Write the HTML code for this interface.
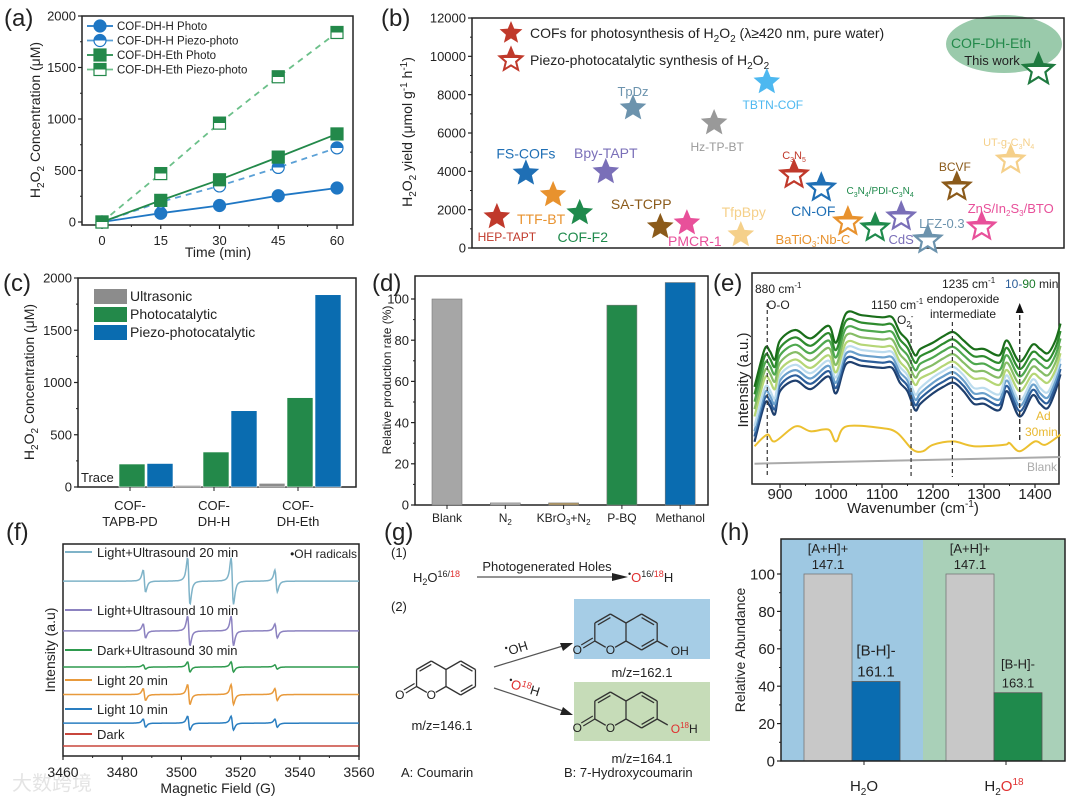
<!DOCTYPE html>
<html><head><meta charset="utf-8">
<style>
html,body{margin:0;padding:0;background:#fff;}
svg{display:block;font-family:"Liberation Sans","Noto Sans CJK SC",sans-serif;}
text{fill:#222;}
</style></head>
<body>
<svg id="fig" width="1080" height="801" viewBox="0 0 1080 801" xmlns="http://www.w3.org/2000/svg">
<defs>
<linearGradient id="halfBlue" x1="0" y1="0" x2="0" y2="1"><stop offset="50%" stop-color="#1f77c4"/><stop offset="50%" stop-color="#fff"/></linearGradient>
<linearGradient id="halfGreen" x1="0" y1="0" x2="0" y2="1"><stop offset="50%" stop-color="#23894a"/><stop offset="50%" stop-color="#fff"/></linearGradient>
</defs>
<!-- panel labels -->
<text x="4" y="26" font-size="24">(a)</text>
<text x="381" y="26" font-size="24">(b)</text>
<text x="3" y="291" font-size="24">(c)</text>
<text x="372" y="291" font-size="24">(d)</text>
<text x="713" y="291" font-size="24">(e)</text>
<text x="6" y="540" font-size="24">(f)</text>
<text x="384" y="540" font-size="24">(g)</text>
<text x="720" y="540" font-size="24">(h)</text>

<!-- axis titles -->
<text transform="translate(40,120) rotate(-90)" text-anchor="middle" font-size="14">H<tspan font-size="10" dy="4">2</tspan><tspan dy="-4">O</tspan><tspan font-size="10" dy="4">2</tspan><tspan dy="-4"> Concentration (μM)</tspan></text>
<text x="218" y="257" text-anchor="middle" font-size="14">Time (min)</text>
<text transform="translate(412,132) rotate(-90)" text-anchor="middle" font-size="14">H<tspan font-size="10" dy="4">2</tspan><tspan dy="-4">O</tspan><tspan font-size="10" dy="4">2</tspan><tspan dy="-4"> yield (μmol g</tspan><tspan font-size="10" dy="-5">-1</tspan><tspan dy="5"> h</tspan><tspan font-size="10" dy="-5">-1</tspan><tspan dy="5">)</tspan></text>
<text transform="translate(34,382) rotate(-90)" text-anchor="middle" font-size="14">H<tspan font-size="10" dy="4">2</tspan><tspan dy="-4">O</tspan><tspan font-size="10" dy="4">2</tspan><tspan dy="-4"> Concentration (μM)</tspan></text>
<text transform="translate(391,380) rotate(-90)" text-anchor="middle" font-size="12">Relative production rate (%)</text>
<text transform="translate(748,380) rotate(-90)" text-anchor="middle" font-size="15">Intensity (a.u.)</text>
<text x="913" y="513" text-anchor="middle" font-size="15">Wavenumber (cm<tspan font-size="10" dy="-6">-1</tspan><tspan dy="6">)</tspan></text>
<text transform="translate(55,650) rotate(-90)" text-anchor="middle" font-size="14">Intensity (a.u)</text>
<text x="218" y="793" text-anchor="middle" font-size="14">Magnetic Field (G)</text>
<text transform="translate(745,650) rotate(-90)" text-anchor="middle" font-size="14">Relative Abundance</text>
<text x="12" y="790" font-size="20" style="fill:#e4e4e4">大数跨境</text>

<!-- (b) legend -->
<text x="530" y="38" font-size="14">COFs for photosynthesis of H<tspan font-size="10" dy="4">2</tspan><tspan dy="-4">O</tspan><tspan font-size="10" dy="4">2</tspan><tspan dy="-4"> (λ≥420 nm, pure water)</tspan></text>
<text x="530" y="65" font-size="14">Piezo-photocatalytic synthesis of H<tspan font-size="10" dy="4">2</tspan><tspan dy="-4">O</tspan><tspan font-size="10" dy="4">2</tspan></text>
<ellipse cx="1004" cy="44" rx="58" ry="29" fill="#8fc4a2" opacity="0.9"/>
<text x="991" y="48" text-anchor="middle" font-size="14" style="fill:#23894a">COF-DH-Eth</text>
<text x="992" y="65" text-anchor="middle" font-size="13">This work</text>

<!-- (e) annotations -->
<text x="755" y="293" font-size="12">880 cm<tspan font-size="8" dy="-5">-1</tspan></text>
<text x="767" y="309" font-size="12">O-O</text>
<text x="871" y="309" font-size="12">1150 cm<tspan font-size="8" dy="-5">-1</tspan></text>
<text x="897" y="324" font-size="12">O<tspan font-size="8" dy="3">2</tspan><tspan font-size="8" dy="-8">-</tspan></text>
<text x="942" y="288" font-size="12">1235 cm<tspan font-size="8" dy="-5">-1</tspan></text>
<text x="1005" y="288" font-size="12"><tspan style="fill:#2c5e9a">10-</tspan><tspan style="fill:#1a7a2a">90</tspan> min</text>
<text x="963" y="303" text-anchor="middle" font-size="12">endoperoxide</text>
<text x="963" y="318" text-anchor="middle" font-size="12">intermediate</text>
<text x="1036" y="420" font-size="12" style="fill:#e8b830">Ad</text>
<text x="1025" y="436" font-size="12" style="fill:#e8b830">30min</text>
<text x="1027" y="471" font-size="12" style="fill:#aaa">Blank</text>

<!-- (g) scheme -->
<g font-size="13">
<text x="391" y="557">(1)</text>
<text x="413" y="582">H<tspan font-size="9" dy="3">2</tspan><tspan dy="-3">O</tspan><tspan font-size="9" dy="-5">16/</tspan><tspan font-size="9" style="fill:#e03030">18</tspan></text>
<line x1="477" y1="577" x2="622" y2="577" stroke="#555" stroke-width="1.2"/>
<polygon points="628,577 612,573 612,581" fill="#222"/>
<text x="547" y="571" text-anchor="middle">Photogenerated Holes</text>
<text x="628" y="582"><tspan font-size="9" dy="-5">•</tspan><tspan dy="5" style="fill:#e03030">O</tspan><tspan font-size="9" dy="-5">16/</tspan><tspan font-size="9" style="fill:#e03030">18</tspan><tspan dy="5">H</tspan></text>
<text x="391" y="611">(2)</text>
<rect x="574" y="599" width="136" height="60" fill="#a6cde6"/>
<rect x="574" y="682" width="136" height="59" fill="#c6dcb8"/>
<line x1="494" y1="667" x2="566" y2="645" stroke="#555" stroke-width="1.2"/>
<polygon points="573,643 560,643 563,651" fill="#222"/>
<line x1="494" y1="688" x2="566" y2="712" stroke="#555" stroke-width="1.2"/>
<polygon points="573,715 563,707 560,715" fill="#222"/>
<text transform="translate(507,656) rotate(-17)"><tspan font-size="9" dy="-5">•</tspan><tspan dy="5">OH</tspan></text>
<text transform="translate(507,687) rotate(17)"><tspan font-size="9" dy="-5">•</tspan><tspan dy="5" style="fill:#e03030">O</tspan><tspan font-size="9" dy="-5" style="fill:#e03030">18</tspan><tspan dy="5">H</tspan></text>
<text x="442" y="730" text-anchor="middle">m/z=146.1</text>
<text x="642" y="677" text-anchor="middle">m/z=162.1</text>
<text x="642" y="763" text-anchor="middle">m/z=164.1</text>
<text x="401" y="777">A:  Coumarin</text>
<text x="564" y="777">B:  7-Hydroxycoumarin</text>
</g>

<!-- (h) labels -->
<text x="864" y="791" text-anchor="middle" font-size="15">H<tspan font-size="10" dy="4">2</tspan><tspan dy="-4">O</tspan></text>
<text x="1004" y="791" text-anchor="middle" font-size="15">H<tspan font-size="10" dy="4">2</tspan><tspan dy="-4" style="fill:#e03030">O</tspan><tspan font-size="10" dy="-6" style="fill:#e03030">18</tspan></text>
</svg>

<script>
// ---------- data ----------
// (a)
const aTimes = [0, 15, 30, 45, 60];
const aDHHPhoto = [0, 85, 160, 255, 330];
const aDHHPiezo = [0, 195, 350, 530, 720];
const aEthPhoto = [0, 210, 410, 630, 855];
const aEthPiezo = [0, 470, 960, 1410, 1840];
const aYTicks = [0, 500, 1000, 1500, 2000];
const aXTicks = [0, 15, 30, 45, 60];
// (b)
const bNames = ["HEP-TAPT","TTF-BT","COF-F2","FS-COFs","Bpy-TAPT","TpDz","SA-TCPP","PMCR-1","TfpBpy","Hz-TP-BT","TBTN-COF","C3N5","CN-OF","BaTiO3:Nb-C","C3N4/PDI-C3N4","CdS","LFZ-0.3","ZnS/In2S3/BTO","BCVF","UT-g-C3N4","COF-DH-Eth"];
const bOrder = [4.2,13.7,18.2,9.1,22.6,27.2,31.8,36.3,45.4,40.9,49.8,54.4,59,63.5,68.1,72.5,77,86.1,81.9,91,95.7];
const bYield = [1620,2770,1830,3900,3970,7300,1100,1300,680,6520,8660,3810,3130,1360,1040,1620,420,1100,3180,4590,9290];
const bPiezo = [0,0,0,0,0,0,0,0,0,0,0,1,1,1,1,1,1,1,1,1,1];
const bYTicks = [0,2000,4000,6000,8000,10000,12000];
// (c)
const cGroups = ["TAPB-PD","DH-H","DH-Eth"];
const cUltra = [0, 15, 35];
const cPhoto = [220, 335, 855];
const cPiezo = [225, 730, 1840];
const cYTicks = [0,500,1000,1500,2000];
// (d)
const dCats = ["Blank","N2","KBrO3+N2","P-BQ","Methanol"];
const dVals = [100, 1, 1, 97, 108];
const dYTicks = [0,20,40,60,80,100];
// (e)
const eWave = [850,870,880,890,900,930,960,995,1010,1030,1060,1100,1120,1135,1150,1165,1175,1200,1220,1240,1260,1280,1300,1330,1345,1370,1395,1410,1425,1440,1450];
const eTop = [46,64,63,59,68,73,69,75,67,81,80,79,79,72,68,61,64,67,70,72,68,64,64,61,68,58,66,64,62,68,76];
const eOffsets = [0,-3.5,-7,-10.5,-14,-16.5,-19,-21.5,-24];
const eAdWave = [850,875,890,930,960,995,1010,1030,1100,1130,1160,1180,1200,1240,1280,1340,1350,1370,1400,1420,1450];
const eAd = [17.9,23.4,20.2,27.3,25,25.8,20.2,27.3,26.5,24.2,16.3,15.5,18.6,20.2,17.9,18.6,19.4,15.5,20.2,18.6,23.4];
const eBlankWave = [850,1450];
const eBlank = [9.6,12.8];
const eXTicks = [900,1000,1100,1200,1300,1400];
// (f)
const fNames = ["Light+Ultrasound 20 min","Light+Ultrasound 10 min","Dark+Ultrasound 30 min","Light 20 min","Light 10 min","Dark"];
const fBase = [82.5,59,42,29,15.5,4.7];
const fBig = [11,7,2.4,4.7,3.3,0];
const fSmall = [5.2,3.3,1,2.8,1.9,0];
const fCenters = [3487.5,3502.5,3517.2,3532];
const fIsBig = [0,1,1,0];
const fXTicks = [3460,3480,3500,3520,3540,3560];
// (h)
const hGroups = ["H2O","H2O18"];
const hA = [100, 100];
const hB = [42.5, 36.5];
const hYTicks = [0,20,40,60,80,100];

// ---------- helpers ----------
const NS = 'http://www.w3.org/2000/svg';
const svg = document.getElementById('fig');
function mk(tag, attrs, name, parent) {
  const el = document.createElementNS(NS, tag);
  for (const k in attrs) el.setAttribute(k, attrs[k]);
  
  
  (parent || svg).appendChild(el);
  return el;
}
function txt(x, y, s, attrs, name) {
  const t = mk('text', Object.assign({x: x, y: y}, attrs || {}), name);
  t.innerHTML = s;
  return t;
}
function lin(d0, d1, r0, r1) { return v => r0 + (v - d0) * (r1 - r0) / (d1 - d0); }
function smooth(p) {
  let d = 'M' + p[0][0].toFixed(1) + ',' + p[0][1].toFixed(1);
  for (let i = 0; i < p.length - 1; i++) {
    const p0 = p[i - 1] || p[i], p1 = p[i], p2 = p[i + 1], p3 = p[i + 2] || p2;
    const c1x = p1[0] + (p2[0] - p0[0]) / 6, c1y = p1[1] + (p2[1] - p0[1]) / 6;
    const c2x = p2[0] - (p3[0] - p1[0]) / 6, c2y = p2[1] - (p3[1] - p1[1]) / 6;
    d += 'C' + c1x.toFixed(1) + ',' + c1y.toFixed(1) + ' ' + c2x.toFixed(1) + ',' + c2y.toFixed(1) + ' ' + p2[0].toFixed(1) + ',' + p2[1].toFixed(1);
  }
  return d;
}
function box(x0, y0, x1, y1, name) {
  mk('rect', {x: x0, y: y0, width: x1 - x0, height: y1 - y0, fill: 'none', stroke: '#222', 'stroke-width': 1.5}, name);
}
function yAxisTicks(ticks, sy, x0, fs, name, minor) {
  ticks.forEach((t, i) => {
    mk('line', {x1: x0 - 4, x2: x0, y1: sy(t), y2: sy(t), stroke: '#222', 'stroke-width': 1.2}, name + '-tick');
    txt(x0 - 6, sy(t) + fs * 0.36, String(t), {'text-anchor': 'end', 'font-size': fs}, name + '-label');
    if (minor && i < ticks.length - 1) {
      const m = (t + ticks[i + 1]) / 2;
      mk('line', {x1: x0 - 2, x2: x0, y1: sy(m), y2: sy(m), stroke: '#222', 'stroke-width': 1}, name + '-minor-tick');
    }
  });
}
function xAxisTicks(ticks, sx, y0, fs, ly, name, minor) {
  ticks.forEach((t, i) => {
    mk('line', {x1: sx(t), x2: sx(t), y1: y0, y2: y0 + 4, stroke: '#222', 'stroke-width': 1.2}, name + '-tick');
    txt(sx(t), ly, String(t), {'text-anchor': 'middle', 'font-size': fs}, name + '-label');
    if (minor && i < ticks.length - 1) {
      const m = (t + ticks[i + 1]) / 2;
      mk('line', {x1: sx(m), x2: sx(m), y1: y0, y2: y0 + 2, stroke: '#222', 'stroke-width': 1}, name + '-minor-tick');
    }
  });
}
function starPts(cx, cy, r) {
  const pts = [];
  for (let i = 0; i < 10; i++) {
    const rr = i % 2 ? r * 0.45 : r;
    const a = -Math.PI / 2 + i * Math.PI / 5;
    pts.push((cx + rr * Math.cos(a)).toFixed(1) + ',' + (cy + rr * Math.sin(a)).toFixed(1));
  }
  return pts.join(' ');
}

// ---------- (a) ----------
(function () {
  const sx = lin(0, 60, 102, 337), sy = lin(0, 2000, 222, 16);
  box(82, 16, 353, 225, 'a-plot-frame');
  yAxisTicks(aYTicks, sy, 82, 13, 'a-y-axis', true);
  xAxisTicks(aXTicks, sx, 225, 13, 245, 'a-x-axis', true);
  const series = [
    {v: aDHHPhoto, c: '#1f77c4', dash: null, m: 'circle', fill: '#1f77c4', n: 'cof-dh-h-photo'},
    {v: aDHHPiezo, c: '#5aa0d6', dash: '6,5', m: 'circle', fill: 'url(#halfBlue)', n: 'cof-dh-h-piezo'},
    {v: aEthPhoto, c: '#23894a', dash: null, m: 'square', fill: '#23894a', n: 'cof-dh-eth-photo'},
    {v: aEthPiezo, c: '#6cc08a', dash: '6,5', m: 'square', fill: 'url(#halfGreen)', n: 'cof-dh-eth-piezo'}
  ];
  const legendNames = ['COF-DH-H Photo', 'COF-DH-H Piezo-photo', 'COF-DH-Eth Photo', 'COF-DH-Eth Piezo-photo'];
  function marker(s, x, y, name) {
    const mc = s.m === 'circle' ? '#1f77c4' : '#23894a';
    if (s.m === 'circle') mk('circle', {cx: x, cy: y, r: 6, fill: s.fill, stroke: mc, 'stroke-width': 1.2}, name);
    else mk('rect', {x: x - 6, y: y - 6, width: 12, height: 12, fill: s.fill, stroke: mc, 'stroke-width': 1.2}, name);
  }
  series.forEach((s, k) => {
    const pts = aTimes.map((t, i) => sx(t).toFixed(1) + ',' + sy(s.v[i]).toFixed(1)).join(' ');
    const attrs = {points: pts, fill: 'none', stroke: s.c, 'stroke-width': 1.8};
    if (s.dash) attrs['stroke-dasharray'] = s.dash;
    mk('polyline', attrs, s.n + '-line');
    aTimes.forEach((t, i) => marker(s, sx(t), sy(s.v[i]), s.n + '-point'));
    const ly = 26 + k * 14.5;
    const la = {x1: 87, x2: 113, y1: ly, y2: ly, stroke: s.c, 'stroke-width': 1.8};
    mk('line', la, 'a-legend-line');
    marker(s, 100, ly, 'a-legend-marker');
    txt(117, ly + 4, legendNames[k], {'font-size': 11.5}, 'a-legend-entry');
  });
})();

// ---------- (b) ----------
(function () {
  const sx = lin(0, 100, 472, 1064), sy = lin(0, 12000, 248, 18);
  box(472, 18, 1064, 248, 'b-plot-frame');
  yAxisTicks(bYTicks, sy, 472, 13, 'b-y-axis', true);
  const colors = ['#c0392b','#e8922e','#1f8a4c','#1f6fb5','#7a6fb8','#6c93ad','#8b5a1a','#e8509a','#f5d08a','#999999','#4db8f0','#c0392b','#1f6fb5','#e8922e','#1f8a4c','#7a6fb8','#6c93ad','#e8509a','#8b5a1a','#f5d08a','#1f7a40'];
  const labelHtml = ['HEP-TAPT','TTF-BT','COF-F2','FS-COFs','Bpy-TAPT','TpDz','SA-TCPP','PMCR-1','TfpBpy','Hz-TP-BT','TBTN-COF',
    'C<tspan font-size="7" dy="3">3</tspan><tspan dy="-3">N</tspan><tspan font-size="7" dy="3">5</tspan>','CN-OF',
    'BaTiO<tspan font-size="8" dy="3">3</tspan><tspan dy="-3">:Nb-C</tspan>',
    'C<tspan font-size="7" dy="3">3</tspan><tspan dy="-3">N</tspan><tspan font-size="7" dy="3">4</tspan><tspan dy="-3">/PDI-C</tspan><tspan font-size="7" dy="3">3</tspan><tspan dy="-3">N</tspan><tspan font-size="7" dy="3">4</tspan>',
    'CdS','LFZ-0.3','ZnS/In<tspan font-size="8" dy="3">2</tspan><tspan dy="-3">S</tspan><tspan font-size="8" dy="3">3</tspan><tspan dy="-3">/BTO</tspan>','BCVF',
    'UT-g-C<tspan font-size="7" dy="3">3</tspan><tspan dy="-3">N</tspan><tspan font-size="7" dy="3">4</tspan>',''];
  const labelDx = [10,-12,3,0,0,0,-19,8,3,3,6,0,-8,-35,5,0,14,29,-2,-2,0];
  const labelDy = [24,29,29,-15,-14,-12,-18,23,-18,28,27,-16,28,22,-34,27,-12,-14,-16,-14,0];
  const labelFs = [12,14,14,14,14,13,14,14,14,12,12,11,14,13,10,13,13,13,12,11,12];
  // legend stars
  mk('polygon', {points: starPts(511, 33, 12), fill: '#c0392b'}, 'b-legend-star-photo');
  const lg = mk('linearGradient', {id: 'gLeg', x1: 0, y1: 0, x2: 0, y2: 1}, 'b-legend-gradient', svg.querySelector('defs'));
  mk('stop', {offset: '45%', 'stop-color': '#c0392b'}, 'grad-stop', lg);
  mk('stop', {offset: '45%', 'stop-color': '#fff'}, 'grad-stop', lg);
  mk('polygon', {points: starPts(511, 60, 12), fill: 'url(#gLeg)', stroke: '#c0392b', 'stroke-width': 2}, 'b-legend-star-piezo');
  bYield.forEach((v, i) => {
    const x = sx(bOrder[i]), y = sy(v), c = colors[i];
    let fill = c;
    if (bPiezo[i]) {
      const g = mk('linearGradient', {id: 'gs' + i, x1: 0, y1: 0, x2: 0, y2: 1}, 'star-gradient', svg.querySelector('defs'));
      mk('stop', {offset: '45%', 'stop-color': c}, 'grad-stop', g);
      mk('stop', {offset: '45%', 'stop-color': '#fff'}, 'grad-stop', g);
      fill = 'url(#gs' + i + ')';
    }
    const r = i === 20 ? 16 : 14;
    mk('polygon', {points: starPts(x, y, r), fill: fill, stroke: bPiezo[i] ? c : 'none', 'stroke-width': 2.2}, 'star-' + bNames[i].toLowerCase().replace(/[^a-z0-9]+/g, '-'));
    if (labelHtml[i]) txt(x + labelDx[i], y + labelDy[i], labelHtml[i], {'text-anchor': 'middle', 'font-size': labelFs[i], style: 'fill:' + c}, 'star-label');
  });
})();

// ---------- (c) ----------
(function () {
  const sy = lin(0, 2000, 487, 278);
  const gx = i => 132 + i * 84;
  box(78, 278, 356, 487, 'c-plot-frame');
  yAxisTicks(cYTicks, sy, 78, 13, 'c-y-axis', true);
  const w = 26;
  const sets = [[cUltra, '#8c8c8c', -28, 'ultrasonic'], [cPhoto, '#23894a', 0, 'photocatalytic'], [cPiezo, '#0a6cb0', 28, 'piezo-photocatalytic']];
  cGroups.forEach((g, i) => {
    sets.forEach(s => {
      const v = s[0][i];
      if (v > 0) mk('rect', {x: gx(i) + s[2] - w / 2, y: sy(v), width: w, height: sy(0) - sy(v), fill: s[1], stroke: '#fff', 'stroke-width': 0.6}, 'bar-' + s[3] + '-' + g.toLowerCase());
    });
    mk('line', {x1: gx(i) - 2, x2: gx(i) - 2, y1: 487, y2: 491, stroke: '#222'}, 'c-x-tick');
    txt(gx(i) - 2, 510, 'COF-', {'text-anchor': 'middle', 'font-size': 13}, 'c-x-label-line1');
    txt(gx(i) - 2, 526, g, {'text-anchor': 'middle', 'font-size': 13}, 'c-x-label-line2');
  });
  txt(81, 482, 'Trace', {'font-size': 13}, 'c-trace-label');
  const legs = [['Ultrasonic', '#8c8c8c'], ['Photocatalytic', '#23894a'], ['Piezo-photocatalytic', '#0a6cb0']];
  legs.forEach((l, k) => {
    const y = 289 + k * 18;
    mk('rect', {x: 94, y: y, width: 33, height: 15, fill: l[1]}, 'c-legend-swatch');
    txt(130, y + 12, l[0], {'font-size': 14}, 'c-legend-entry');
  });
})();

// ---------- (d) ----------
(function () {
  const sy = lin(0, 100, 505, 299);
  const cx = i => 447 + i * 58.3;
  box(415, 276, 708, 505, 'd-plot-frame');
  yAxisTicks(dYTicks, sy, 415, 13, 'd-y-axis', true);
  const cols = ['#a6a6a6', '#b8b8b8', '#b89a60', '#23894a', '#0a6cb0'];
  const labs = ['Blank', 'N<tspan font-size="8" dy="3">2</tspan>', 'KBrO<tspan font-size="8" dy="3">3</tspan><tspan dy="-3">+N</tspan><tspan font-size="8" dy="3">2</tspan>', 'P-BQ', 'Methanol'];
  dVals.forEach((v, i) => {
    mk('rect', {x: cx(i) - 15, y: sy(v), width: 30, height: sy(0) - sy(v), fill: cols[i], stroke: '#777', 'stroke-width': 0.6}, 'bar-' + dCats[i].toLowerCase().replace(/[^a-z0-9]+/g, '-'));
    mk('line', {x1: cx(i), x2: cx(i), y1: 505, y2: 509, stroke: '#222'}, 'd-x-tick');
    txt(cx(i), 522, labs[i], {'text-anchor': 'middle', 'font-size': 12}, 'd-x-label');
  });
})();

// ---------- (e) ----------
(function () {
  const sx = lin(900, 1400, 780, 1035), sy = lin(0, 100, 484, 273);
  box(752, 273, 1059, 484, 'e-plot-frame');
  xAxisTicks(eXTicks, sx, 484, 15, 499, 'e-x-axis', true);
  mk('path', {d: smooth(eBlankWave.map((w, i) => [sx(w), sy(eBlank[i])])), fill: 'none', stroke: '#aaa', 'stroke-width': 2}, 'e-blank-curve');
  mk('path', {d: smooth(eAdWave.map((w, i) => [sx(w), sy(eAd[i])])), fill: 'none', stroke: '#ecc030', 'stroke-width': 2}, 'e-ad-30min-curve');
  const cols = ['#1a6e1a', '#2e8b2e', '#4fa84f', '#86bd66', '#b5d676', '#bcdcee', '#6aa0cc', '#2c5e9a', '#1e3f6e'];
  for (let k = eOffsets.length - 1; k >= 0; k--) {
    mk('path', {d: smooth(eWave.map((w, i) => [sx(w), sy(eTop[i] + eOffsets[k] - (k > 4 ? (eTop[i] < 66 ? 2 : 0) : 0))])), fill: 'none', stroke: cols[k], 'stroke-width': 2.2}, 'e-spectrum-curve');
  }
  [[875, 303], [1157, 325], [1238, 322]].forEach(p => {
    mk('line', {x1: sx(p[0]), x2: sx(p[0]), y1: p[1], y2: 477, stroke: '#333', 'stroke-dasharray': '4,3', 'stroke-width': 1.2}, 'e-band-marker');
  });
  mk('line', {x1: sx(1370), x2: sx(1370), y1: 440, y2: 312, stroke: '#333', 'stroke-dasharray': '5,3', 'stroke-width': 1.4}, 'e-time-arrow');
  mk('polygon', {points: sx(1370) + ',303 ' + (sx(1370) - 4) + ',313 ' + (sx(1370) + 4) + ',313', fill: '#111'}, 'e-time-arrowhead');
})();

// ---------- (f) ----------
(function () {
  const sx = lin(3460, 3560, 63, 359), sy = lin(0, 100, 756, 544);
  box(63, 544, 359, 756, 'f-plot-frame');
  xAxisTicks(fXTicks, sx, 756, 14, 777, 'f-x-axis', true);
  const cols = ['#7fb3c8', '#8c82c0', '#2e9a4e', '#e89a3c', '#2a7ec0', '#c8463c'];
  const labY = [557, 615, 655, 685, 714, 739];
  fNames.forEach((n, k) => {
    const pts = [];
    for (let b = 3460; b <= 3560; b += 0.2) {
      let v = fBase[k];
      fCenters.forEach((c, j) => {
        const amp = fIsBig[j] ? fBig[k] : fSmall[k];
        const u = (b - c) / 0.7;
        v += amp * (-u) / Math.pow(1 + u * u, 2) / 0.325;
      });
      pts.push(sx(b).toFixed(1) + ',' + sy(v).toFixed(1));
    }
    mk('polyline', {points: pts.join(' '), fill: 'none', stroke: cols[k], 'stroke-width': 1.5}, 'f-esr-trace');
    mk('line', {x1: 65, x2: 92, y1: labY[k] - 5, y2: labY[k] - 5, stroke: cols[k], 'stroke-width': 2}, 'f-legend-line');
    txt(97, labY[k], n, {'font-size': 13}, 'f-legend-entry');
  });
  txt(357, 558, '•OH radicals', {'text-anchor': 'end', 'font-size': 12}, 'f-oh-radicals-label');
})();

// ---------- (g) molecules ----------
(function () {
  function mol(cx, cy, s, sub, name) {
    const g = mk('g', {stroke: '#333', 'stroke-width': 1.3, fill: 'none'}, name);
    const h = s * Math.sqrt(3) / 2;
    const L = [cx - h, cy], R = [cx + h, cy];
    const v = (c, a) => [c[0] + s * Math.cos(a * Math.PI / 180), c[1] + s * Math.sin(a * Math.PI / 180)];
    const angs = [-90, -30, 30, 90, 150, 210];
    const lv = angs.map(a => v(L, a)), rv = angs.map(a => v(R, a));
    const edge = (p, q, nm) => mk('line', {x1: p[0], y1: p[1], x2: q[0], y2: q[1]}, nm, g);
    for (let i = 0; i < 6; i++) {
      const p = lv[i], q = lv[(i + 1) % 6];
      let a = p, b = q;
      if (i === 2) b = [q[0] + (p[0] - q[0]) * 0.3, q[1] + (p[1] - q[1]) * 0.3];
      if (i === 3) a = [p[0] + (q[0] - p[0]) * 0.3, p[1] + (q[1] - p[1]) * 0.3];
      edge(a, b, 'bond');
    }
    for (let i = 0; i < 6; i++) if (i !== 4) edge(rv[i], rv[(i + 1) % 6], 'bond');
    const inner = (p, q, c) => { const f = 0.8; const a = [c[0] + (p[0] - c[0]) * f, c[1] + (p[1] - c[1]) * f], b = [c[0] + (q[0] - c[0]) * f, c[1] + (q[1] - c[1]) * f]; edge(a, b, 'double-bond'); };
    inner(lv[5], lv[0], L); inner(rv[0], rv[1], R); inner(rv[2], rv[3], R);
    const co = [lv[4][0] - h, lv[4][1] + s / 2];
    edge(lv[4], [co[0] + 4, co[1] - 2], 'carbonyl-bond');
    edge([lv[4][0] - 2, lv[4][1] - 3], [co[0] + 2, co[1] - 5], 'carbonyl-bond');
    txt(co[0] - 2, co[1] + 4, 'O', {'text-anchor': 'middle', 'font-size': 12}, 'carbonyl-o');
    txt(lv[3][0], lv[3][1] + 4, 'O', {'text-anchor': 'middle', 'font-size': 12}, 'ring-o');
    if (sub) {
      const p = rv[2];
      edge(p, [p[0] + h - 5, p[1] + s / 2 - 3], 'oh-bond');
      txt(p[0] + h - 2, p[1] + s / 2 + 5, sub, {'font-size': 12}, 'hydroxyl-label');
    }
  }
  mol(446, 678, 17, '', 'coumarin-molecule');
  mol(626, 632, 18, 'OH', 'hydroxycoumarin-molecule');
  mol(626, 710, 18, '<tspan style="fill:#e03030">O</tspan><tspan font-size="8" dy="-5" style="fill:#e03030">18</tspan><tspan dy="5">H</tspan>', 'o18-hydroxycoumarin-molecule');
})();

// ---------- (h) ----------
(function () {
  const sy = lin(0, 100, 761, 574);
  mk('rect', {x: 781, y: 539, width: 142, height: 222, fill: '#9ec8e2'}, 'h-bg-h2o');
  mk('rect', {x: 923, y: 539, width: 142, height: 222, fill: '#a9d0b8'}, 'h-bg-h2o18');
  const gx = i => 852 + i * 142;
  const bCols = ['#0a6cb0', '#1f8a4c'];
  const aLab = [['[A+H]+', '147.1'], ['[A+H]+', '147.1']];
  const bLab = [['[B-H]-', '161.1', 15], ['[B-H]-', '163.1', 13]];
  hGroups.forEach((g, i) => {
    mk('rect', {x: gx(i) - 48, y: sy(hA[i]), width: 48, height: sy(0) - sy(hA[i]), fill: '#c8c8c8', stroke: '#777', 'stroke-width': 0.8}, 'bar-a-' + g.toLowerCase());
    mk('rect', {x: gx(i), y: sy(hB[i]), width: 48, height: sy(0) - sy(hB[i]), fill: bCols[i], stroke: '#555', 'stroke-width': 0.8}, 'bar-b-' + g.toLowerCase());
    txt(gx(i) - 24, sy(hA[i]) - 21, aLab[i][0], {'text-anchor': 'middle', 'font-size': 13}, 'h-bar-a-label');
    txt(gx(i) - 24, sy(hA[i]) - 5, aLab[i][1], {'text-anchor': 'middle', 'font-size': 13}, 'h-bar-a-value');
    txt(gx(i) + 24, sy(hB[i]) - (i ? 24 : 26), bLab[i][0], {'text-anchor': 'middle', 'font-size': bLab[i][2]}, 'h-bar-b-label');
    txt(gx(i) + 24, sy(hB[i]) - 5, bLab[i][1], {'text-anchor': 'middle', 'font-size': bLab[i][2]}, 'h-bar-b-value');
    mk('line', {x1: gx(i) + 12, x2: gx(i) + 12, y1: 761, y2: 765, stroke: '#222'}, 'h-x-tick');
  });
  box(781, 539, 1065, 761, 'h-plot-frame');
  yAxisTicks(hYTicks, sy, 781, 15, 'h-y-axis', true);
})();
</script>
</body></html>
